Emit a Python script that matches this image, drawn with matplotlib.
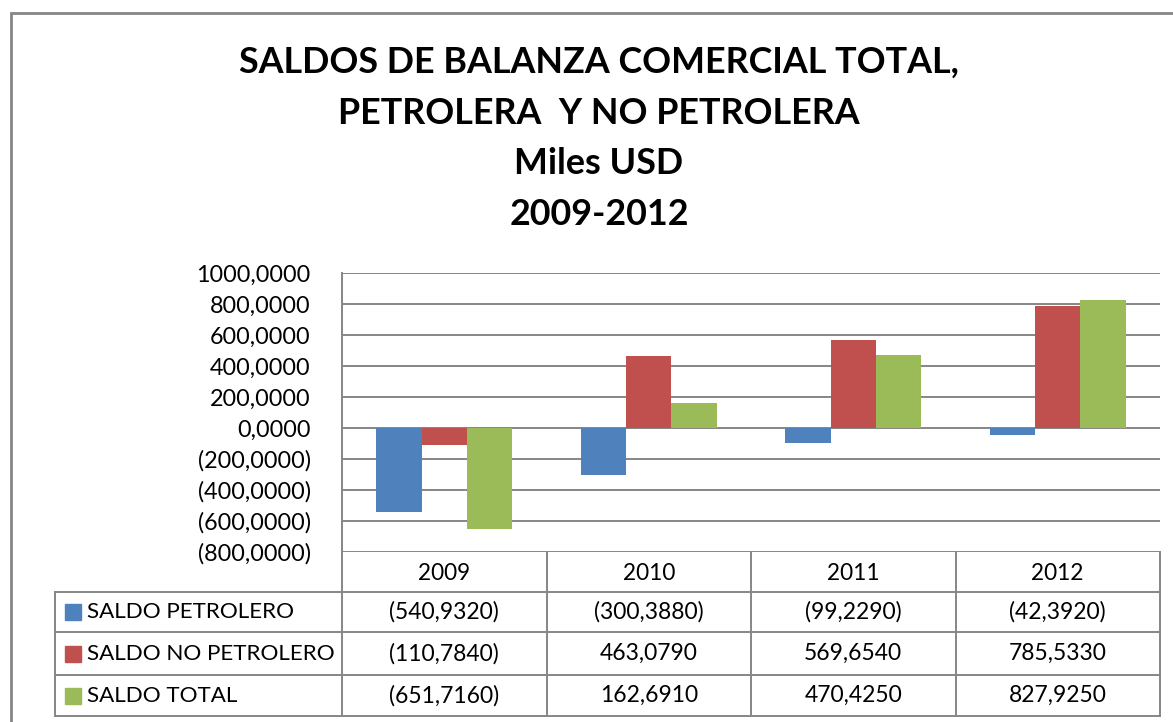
import matplotlib
matplotlib.use("Agg")
import matplotlib.pyplot as plt
import matplotlib.transforms as mtransforms
from matplotlib.lines import Line2D
from matplotlib.patches import Rectangle
import numpy as np

years = ["2009", "2010", "2011", "2012"]
series_names = ["SALDO PETROLERO", "SALDO NO PETROLERO", "SALDO TOTAL"]
saldo_petrolero = [-540.932, -300.388, -99.229, -42.392]
saldo_no_petrolero = [-110.784, 463.079, 569.654, 785.533]
saldo_total = [-651.716, 162.691, 470.425, 827.925]
colors = ["#4F81BD", "#C0504D", "#9BBB59"]
title_lines = [
    "SALDOS DE BALANZA COMERCIAL TOTAL,",
    "PETROLERA  Y NO PETROLERA",
    "Miles USD",
    "2009-2012",
]

W, H = 1173, 722
GRID = "#868686"
FONT = "Lato"

plt.rcParams["font.family"] = [FONT, "DejaVu Sans"]


def fx(p):
    return p / W


def fy(p):
    return 1 - p / H


def fmt(v):
    s = f"{abs(v):.4f}".replace(".", ",")
    return f"({s})" if v < 0 else s


fig = plt.figure(figsize=(W / 100, H / 100), dpi=100)
fig.patch.set_facecolor("white")

# outer chart border (cut off on right/bottom like the reference)
fig.add_artist(Rectangle((fx(11), fy(760)), fx(1250), fy(13) - fy(760),
                         transform=fig.transFigure, fill=False,
                         edgecolor=GRID, linewidth=2))

ax_left, ax_right, ax_top, ax_bottom = 342, 1160, 273, 552
ax = fig.add_axes([fx(ax_left), fy(ax_bottom), fx(ax_right - ax_left), fy(ax_top) - fy(ax_bottom)])

series = [saldo_petrolero, saldo_no_petrolero, saldo_total]
x = np.arange(len(years))
bw = 1 / 4.5
for i, vals in enumerate(series):
    ax.bar(x + (i - 1) * bw, vals, width=bw, color=colors[i], zorder=3)

ax.set_xlim(-0.5, len(years) - 0.5)
ax.set_ylim(-800, 1000)
yt = np.arange(-800, 1001, 200)
ax.set_yticks(yt)
ax.set_yticklabels([fmt(v) for v in yt], fontsize=16.8)
ax.tick_params(axis="y", length=0, pad=22.5)
ax.set_xticks([])
ax.yaxis.grid(True, color=GRID, linewidth=1.4, zorder=0)
for side in ["top", "right", "bottom"]:
    ax.spines[side].set_visible(False)
ax.spines["left"].set_color(GRID)
ax.spines["left"].set_linewidth(1.4)

# title
title_y = [62, 113, 164, 215]
for line, yy in zip(title_lines, title_y):
    fig.text(fx(599), fy(yy), line, ha="center", va="center",
             fontsize=25.8, fontweight="bold")

# data table
tr = mtransforms.blended_transform_factory(ax.transData, fig.transFigure)
row_lines = [552, 592, 632, 675, 716]
tab_left = 55

for xb in np.arange(-0.5, len(years), 1.0):
    fig.add_artist(Line2D([xb, xb], [fy(552), fy(716)], transform=tr,
                          color=GRID, linewidth=1.4))
fig.add_artist(Line2D([fx(tab_left), fx(tab_left)], [fy(592), fy(716)],
                      transform=fig.transFigure, color=GRID, linewidth=1.4))
for ry in row_lines[1:]:
    fig.add_artist(Line2D([fx(tab_left), fx(ax_right)], [fy(ry), fy(ry)],
                          transform=fig.transFigure, color=GRID, linewidth=1.4))

for j, yr in enumerate(years):
    fig.text(j, fy(573), yr, transform=tr, ha="center", va="center", fontsize=16.3)

for i, (name, vals) in enumerate(zip(series_names, series)):
    cy = (row_lines[i + 1] + row_lines[i + 2]) / 2
    fig.add_artist(Rectangle((fx(65), fy(cy + 8)), fx(16), fy(cy - 8) - fy(cy + 8),
                             transform=fig.transFigure, color=colors[i]))
    fig.text(fx(87), fy(cy), name, ha="left", va="center", fontsize=16.1)
    for j, v in enumerate(vals):
        fig.text(j, fy(cy), fmt(v), transform=tr, ha="center", va="center", fontsize=16.5)

fig.savefig("out.png", dpi=100)
